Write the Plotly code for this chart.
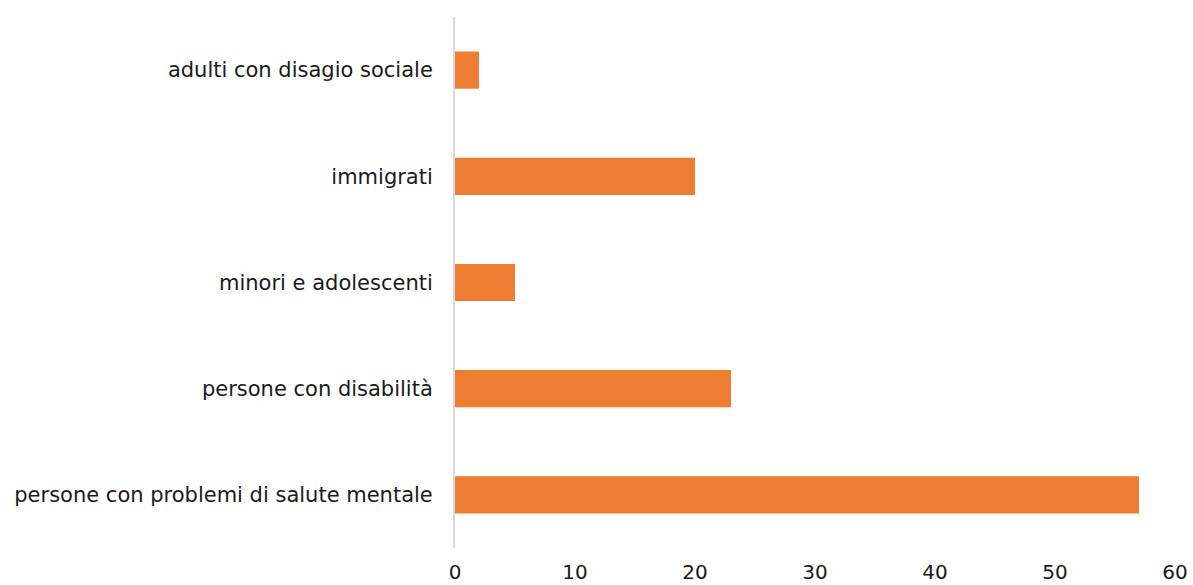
import plotly.graph_objects as go

categories = [
    "persone con problemi di salute mentale",
    "persone con disabilità",
    "minori e adolescenti",
    "immigrati",
    "adulti con disagio sociale",
]
values = [57, 23, 5, 20, 2]
x_ticks = [0, 10, 20, 30, 40, 50, 60]

fig = go.Figure(
    go.Bar(
        x=values,
        y=categories,
        orientation="h",
        marker=dict(color="#ED7D31", line=dict(width=0)),
        width=0.35,
    )
)

fig.update_layout(
    width=1193,
    height=585,
    margin=dict(l=455, r=18, t=17, b=37),
    paper_bgcolor="white",
    plot_bgcolor="white",
    showlegend=False,
    font=dict(family="DejaVu Sans, Verdana, sans-serif", size=21, color="#1a1a1a"),
)

fig.update_xaxes(
    range=[0, 60],
    tickvals=x_ticks,
    tickfont=dict(size=20),
    showgrid=False,
    zeroline=False,
    showline=False,
    ticks="",
    ticklabelstandoff=10,
    automargin=False,
    fixedrange=True,
)

fig.update_yaxes(
    categoryorder="array",
    categoryarray=categories,
    showgrid=False,
    zeroline=False,
    showline=True,
    linecolor="#d9d9d9",
    linewidth=2,
    ticks="",
    ticklabelstandoff=16,
    automargin=False,
    fixedrange=True,
)

fig.write_html("out.html")
